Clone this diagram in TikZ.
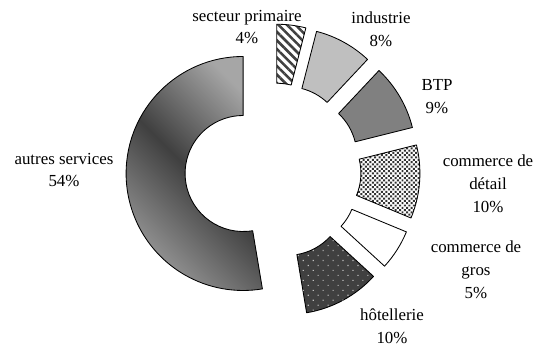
\documentclass[tikz,border=0pt]{standalone}
\usepackage{fontspec}
\setmainfont{Liberation Serif}
\usepackage{tikz}
\usetikzlibrary{patterns.meta}

\begin{document}
\begin{tikzpicture}[x = 0.025cm, y = 0.025cm, line width = 0.6pt,
                        piece/.style = {draw, line join = round},
                        lbl/.style = {align = center, inner sep = 0pt, font = \fontsize{12pt}{16.3pt}\selectfont}]
        \useasboundingbox (-273,-174) rectangle (269,171);

        % the pieces of the ring, pushed out from the centre
        \draw [piece, fill = white, pattern = {Lines[angle = -45, distance = 4.3pt, line width = 1.8pt]}, pattern color = black!75, shift = {(82.8:30)}]
              (90:117) arc [start angle = 90, end angle = 75.6, radius = 117] -- (75.6:58) arc [start angle = 75.6, end angle = 90, radius = 58] -- cycle;
        \draw [piece, fill = black!25, shift = {(61.2:30)}]
              (75.6:117) arc [start angle = 75.6, end angle = 46.8, radius = 117] -- (46.8:58) arc [start angle = 46.8, end angle = 75.6, radius = 58] -- cycle;
        \draw [piece, fill = black!50, shift = {(30.4:30)}]
              (46.8:117) arc [start angle = 46.8, end angle = 14, radius = 117] -- (14:58) arc [start angle = 14, end angle = 46.8, radius = 58] -- cycle;
        \draw [piece, pattern = {Dots[angle = 45, distance = 2.3pt, radius = 1pt]}, pattern color = black!80, shift = {(-4.25:30)}]
              (14:117) arc [start angle = 14, end angle = -22.5, radius = 117] -- (-22.5:58) arc [start angle = -22.5, end angle = 14, radius = 58] -- cycle;
        \draw [piece, fill = white, shift = {(-32.5:30)}]
              (-22.5:117) arc [start angle = -22.5, end angle = -42.5, radius = 117] -- (-42.5:58) arc [start angle = -42.5, end angle = -22.5, radius = 58] -- cycle;
        \draw [piece, fill = black!75, postaction = {pattern = {Dots[angle = 45, distance = 5pt, radius = 0.55pt]}, pattern color = black!25}, shift = {(-61.5:30)}]
              (-42.5:117) arc [start angle = -42.5, end angle = -80.5, radius = 117] -- (-80.5:58) arc [start angle = -80.5, end angle = -42.5, radius = 58] -- cycle;
        \draw [piece, top color = black!35, bottom color = black!40, middle color = black!75, shading angle = -45, shift = {(184.75:30)}]
              (90:117) arc [start angle = 90, end angle = 279.5, radius = 117] -- (279.5:58) arc [start angle = 279.5, end angle = 90, radius = 58] -- cycle;

        % labels
        \node [lbl] (L1) at (-26,144) {secteur primaire\\4\%};
        \node [lbl] (L2) at (108,142) {industrie\\8\%};
        \node [lbl] (L3) at (164,74) {BTP\\9\%};
        \node [lbl] (L4) at (215,-13) {commerce de\\détail\\10\%};
        \node [lbl] (L5) at (203,-99) {commerce de\\gros\\5\%};
        \node [lbl] (L6) at (119,-155) {hôtellerie\\10\%};
        \node [lbl] (L7) at (-209,1) {autres services\\54\%};
        \end{tikzpicture}
\end{document}
